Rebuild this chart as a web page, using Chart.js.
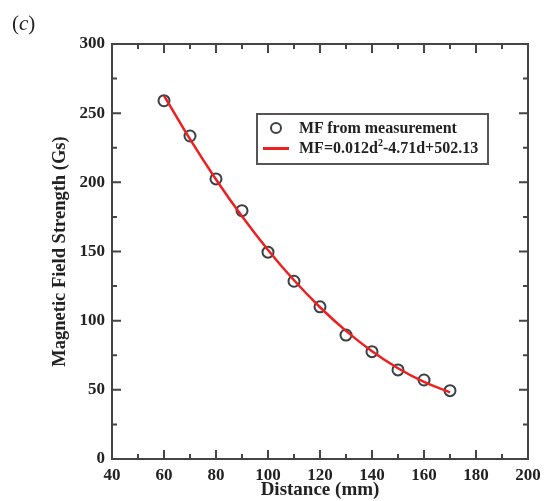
<!DOCTYPE html>
<html>
<head>
<meta charset="utf-8">
<script src="https://cdn.jsdelivr.net/npm/chart.js@4"></script>
<style>
  body { margin: 0; background: #fff; }
  #wrap { position: relative; width: 549px; height: 501px; }
  #tag { position: absolute; left: 12px; top: 11px; font: 21px "Liberation Serif", serif; color: #222; }
  #legend { position: absolute; left: 256px; top: 113px; width: 229px; height: 48px;
    border: 2px solid #555; font: bold 16px "Liberation Serif", serif; color: #222; }
  .row { position: absolute; left: 0; height: 20px; line-height: 20px; }
  .row span.t { position: absolute; left: 41px; white-space: nowrap; }
  .dot { position: absolute; left: 12px; top: 4px; width: 8px; height: 8px; border: 2px solid #3b4045; border-radius: 50%; }
  .ln { position: absolute; left: 5px; top: 9px; width: 26px; height: 2.5px; background: #ee1f1f; }
  sup { font-size: 10px; vertical-align: 7px; line-height: 0; }
</style>
</head>
<body>
<div id="wrap">
  <canvas id="c" width="549" height="501"></canvas>
  <div id="tag">(<i>c</i>)</div>
  <div id="legend">
    <div class="row" style="top:3px"><div class="dot"></div><span class="t">MF from measurement</span></div>
    <div class="row" style="top:23px"><div class="ln"></div><span class="t">MF=0.012d<sup>2</sup>-4.71d+502.13</span></div>
  </div>
</div>
<script>
// measured points
const distance = [60, 70, 80, 90, 100, 110, 120, 130, 140, 150, 160, 170];
const measured = [259, 233.5, 202.5, 179.5, 149.5, 128.5, 110, 89.6, 77.6, 64.4, 57.1, 49.4];
// fitted curve
const fitted = [262.7, 231.2, 202.1, 175.4, 151.1, 129.2, 109.7, 92.6, 77.9, 65.6, 55.7, 48.2];

const xTicks = [40, 60, 80, 100, 120, 140, 160, 180, 200];
const yTicks = [0, 50, 100, 150, 200, 250, 300];

const serif = '"Liberation Serif", "Times New Roman", serif';

// frame and inward ticks on all four sides
const frame = {
  id: 'frame',
  afterDraw(chart) {
    const { ctx, chartArea: a, scales: { x, y } } = chart;
    ctx.save();
    ctx.strokeStyle = '#444';
    ctx.lineWidth = 2;
    ctx.strokeRect(a.left, a.top, a.right - a.left, a.bottom - a.top);
    ctx.beginPath();
    for (let v = 40; v <= 200; v += 10) {
      const px = x.getPixelForValue(v);
      const len = v % 20 === 0 ? 9 : 5;
      ctx.moveTo(px, a.bottom); ctx.lineTo(px, a.bottom - len);
      ctx.moveTo(px, a.top); ctx.lineTo(px, a.top + len);
    }
    for (let v = 0; v <= 300; v += 25) {
      const py = y.getPixelForValue(v);
      const len = v % 50 === 0 ? 9 : 5;
      ctx.moveTo(a.left, py); ctx.lineTo(a.left + len, py);
      ctx.moveTo(a.right, py); ctx.lineTo(a.right - len, py);
    }
    ctx.stroke();
    ctx.restore();
  }
};

new Chart(document.getElementById('c'), {
  type: 'scatter',
  data: {
    datasets: [{
      label: 'MF=0.012d^2-4.71d+502.13',
      data: distance.map((d, i) => ({ x: d, y: fitted[i] })),
      showLine: true,
      borderColor: '#ee1f1f',
      borderWidth: 2.5,
      pointRadius: 0,
      tension: 0.4,
      order: 0
    }, {
      label: 'MF from measurement',
      data: distance.map((d, i) => ({ x: d, y: measured[i] })),
      pointStyle: 'circle',
      pointRadius: 5.5,
      pointBorderWidth: 2,
      borderColor: '#3b4045',
      backgroundColor: 'rgba(0,0,0,0)',
      order: 1
    }]
  },
  options: {
    responsive: false,
    animation: false,
    layout: { padding: { top: 44, right: 21, left: 0, bottom: 0 } },
    scales: {
      x: {
        type: 'linear',
        min: 40,
        max: 200,
        afterBuildTicks: s => { s.ticks = xTicks.map(v => ({ value: v })); },
        afterFit: s => { s.height = 42; },
        grid: { display: false, drawTicks: false },
        border: { display: false },
        ticks: { color: '#222', padding: 6, font: { family: serif, size: 17, weight: 'bold' } },
        title: { display: true, text: 'Distance (mm)', color: '#222', padding: 0,
          font: { family: serif, size: 19, weight: 'bold' } }
      },
      y: {
        min: 0,
        max: 300,
        afterBuildTicks: s => { s.ticks = yTicks.map(v => ({ value: v })); },
        afterFit: s => { s.width = 112; },
        grid: { display: false, drawTicks: false },
        border: { display: false },
        ticks: { color: '#222', padding: 7, font: { family: serif, size: 17, weight: 'bold' } },
        title: { display: true, text: 'Magnetic Field Strength (Gs)', color: '#222', padding: { top: 49, bottom: 0 },
          font: { family: serif, size: 18.5, weight: 'bold' } }
      }
    },
    plugins: {
      legend: { display: false },
      tooltip: { enabled: false }
    }
  },
  plugins: [frame]
});
</script>
</body>
</html>
